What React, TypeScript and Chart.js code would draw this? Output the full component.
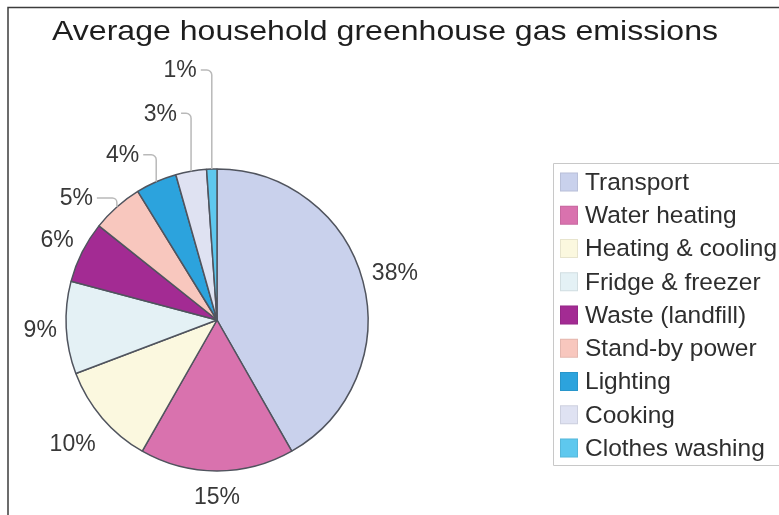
import { useEffect, useRef } from "react";
import { Chart, registerables } from "chart.js";

Chart.register(...registerables);

const TITLE = "Average household greenhouse gas emissions";

const categories = [
  "Transport",
  "Water heating",
  "Heating & cooling",
  "Fridge & freezer",
  "Waste (landfill)",
  "Stand-by power",
  "Lighting",
  "Cooking",
  "Clothes washing",
];

const shares = [38, 15, 10, 9, 6, 5, 4, 3, 1];

const sliceColors = [
  "#c9d1ec",
  "#d972ae",
  "#fbf8df",
  "#e4f1f5",
  "#a32b93",
  "#f8c7be",
  "#2ca3dd",
  "#dfe2f2",
  "#5ec8ee",
];

// label placement (layout only)
type LabelLayout =
  | { mode: "radial"; dist: number }
  | { mode: "leader"; rise: number; run: number };

const labelLayout: LabelLayout[] = [
  { mode: "radial", dist: 33 },
  { mode: "radial", dist: 26 },
  { mode: "radial", dist: 39 },
  { mode: "radial", dist: 26 },
  { mode: "radial", dist: 28 },
  { mode: "leader", rise: 9, run: 20 },
  { mode: "leader", rise: 27, run: 13 },
  { mode: "leader", rise: 58, run: 10 },
  { mode: "leader", rise: 99, run: 11 },
];

const FONT = '"Liberation Sans", Arial, sans-serif';

const decorPlugin = {
  id: "decor",
  afterDraw(chart: any) {
    const ctx: CanvasRenderingContext2D = chart.ctx;
    const meta = chart.getDatasetMeta(0);

    // frame
    ctx.save();
    ctx.strokeStyle = "#3c3c3c";
    ctx.lineWidth = 1.5;
    ctx.beginPath();
    ctx.moveTo(8, chart.height);
    ctx.lineTo(8, 7.5);
    ctx.lineTo(chart.width, 7.5);
    ctx.stroke();
    ctx.restore();

    // title
    ctx.save();
    ctx.font = `28px ${FONT}`;
    ctx.fillStyle = "#1e1e1e";
    ctx.textBaseline = "alphabetic";
    ctx.textAlign = "left";
    const tw = ctx.measureText(TITLE).width;
    ctx.translate(52, 40);
    ctx.scale(666 / tw, 1);
    ctx.fillText(TITLE, 0, 0);
    ctx.restore();

    // slice labels
    ctx.save();
    ctx.font = `23px ${FONT}`;
    ctx.fillStyle = "#383838";
    ctx.textBaseline = "middle";
    meta.data.forEach((arc: any, i: number) => {
      const { x, y, startAngle, endAngle, outerRadius } = arc.getProps(
        ["x", "y", "startAngle", "endAngle", "outerRadius"],
        true
      );
      const mid = (startAngle + endAngle) / 2;
      const text = `${shares[i]}%`;
      const lay = labelLayout[i];
      if (lay.mode === "radial") {
        const r = outerRadius + lay.dist;
        ctx.textAlign = "center";
        ctx.fillText(text, x + r * Math.cos(mid), y + r * Math.sin(mid) + 1);
      } else {
        const px = x + outerRadius * Math.cos(mid);
        const py = y + outerRadius * Math.sin(mid);
        const ly = py - lay.rise;
        const lx = px - lay.run;
        ctx.save();
        ctx.strokeStyle = "#b9b9b9";
        ctx.lineWidth = 1.5;
        ctx.beginPath();
        ctx.moveTo(px, py);
        ctx.arcTo(px, ly, lx, ly, Math.min(5, lay.rise / 2, lay.run / 2));
        ctx.lineTo(lx, ly);
        ctx.stroke();
        ctx.restore();
        ctx.textAlign = "right";
        ctx.fillText(text, lx - 4, ly + 1);
      }
    });
    ctx.restore();

    // legend
    ctx.save();
    const boxL = 553.5;
    const boxT = 163.5;
    const boxB = 465.5;
    ctx.strokeStyle = "#c8c8c8";
    ctx.lineWidth = 1;
    ctx.beginPath();
    ctx.moveTo(chart.width + 2, boxT);
    ctx.lineTo(boxL, boxT);
    ctx.lineTo(boxL, boxB);
    ctx.lineTo(chart.width + 2, boxB);
    ctx.stroke();
    const pitch = (448 - 182) / 8;
    ctx.font = `24.5px ${FONT}`;
    ctx.textAlign = "left";
    ctx.textBaseline = "middle";
    categories.forEach((c, i) => {
      const cy = 182 + i * pitch;
      ctx.fillStyle = sliceColors[i];
      ctx.fillRect(560, cy - 9.5, 18, 19);
      ctx.strokeStyle = "rgba(0,0,0,0.08)";
      ctx.strokeRect(560.5, cy - 9, 17, 18);
      ctx.fillStyle = "#2e2e2e";
      ctx.fillText(c, 585, cy + 1);
    });
    ctx.restore();
  },
};

export default function App() {
  const ref = useRef<HTMLCanvasElement | null>(null);

  useEffect(() => {
    if (!ref.current) return;
    const chart = new Chart(ref.current, {
      type: "pie",
      data: {
        labels: categories,
        datasets: [
          {
            data: shares,
            backgroundColor: sliceColors,
            borderColor: "#50545e",
            borderWidth: 1.5,
          },
        ],
      },
      options: {
        responsive: false,
        animation: false,
        events: [],
        radius: 151,
        layout: { padding: { left: 57, right: 402, top: 160, bottom: 35 } },
        plugins: {
          legend: { display: false },
          title: { display: false },
          tooltip: { enabled: false },
        },
      } as any,
      plugins: [decorPlugin],
    });
    return () => chart.destroy();
  }, []);

  return (
    <div
      style={{
        position: "fixed",
        left: 0,
        top: 0,
        width: 779,
        height: 515,
        background: "#ffffff",
      }}
    >
      <canvas ref={ref} width={779} height={515} style={{ width: 779, height: 515 }} />
    </div>
  );
}
